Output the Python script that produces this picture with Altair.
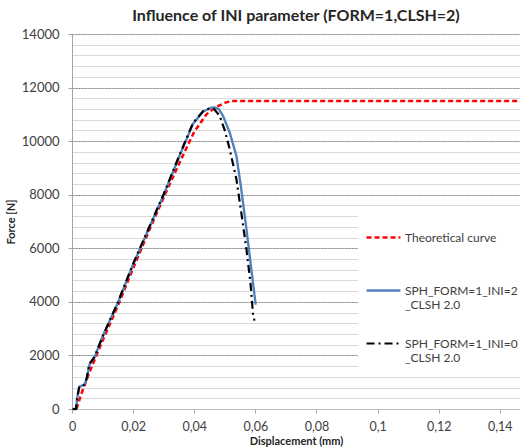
import altair as alt
import pandas as pd

# ---- data ----
theo_x = [0.0015, 0.003, 0.006, 0.01, 0.015, 0.02, 0.025, 0.03, 0.035, 0.04,
          0.044, 0.047, 0.05, 0.0523, 0.1466]
theo_f = [0, 550, 1450, 2550, 3850, 5250, 6600, 7900, 9150, 10350,
          11000, 11270, 11430, 11500, 11500]

ini2_x = [0.0002, 0.0013, 0.0017, 0.0024, 0.0032, 0.004, 0.0048, 0.0057, 0.0066,
          0.0075, 0.01, 0.015, 0.02, 0.025, 0.03, 0.035, 0.0396, 0.0429, 0.0455,
          0.0467, 0.048, 0.0494, 0.0516, 0.0538, 0.0554, 0.0571, 0.0587, 0.0601]
ini2_f = [0, 0, 400, 835, 870, 900, 1100, 1650, 1800, 1960, 2710, 3960, 5400,
          6700, 8000, 9400, 10650, 11100, 11250, 11260, 11200, 10950, 10325,
          9450, 8200, 6700, 5200, 3900]

ini0_x = [0.0002, 0.0013, 0.0017, 0.0024, 0.0032, 0.004, 0.0048, 0.0057, 0.0066,
          0.0075, 0.01, 0.015, 0.02, 0.025, 0.03, 0.035, 0.0396, 0.0429, 0.0452,
          0.0465, 0.0483, 0.05, 0.0516, 0.0538, 0.0554, 0.0571, 0.0584, 0.0592,
          0.0597]
ini0_f = [0, 0, 420, 850, 880, 900, 1150, 1700, 1820, 1980, 2700, 3980, 5420,
          6720, 8020, 9430, 10680, 11120, 11230, 11200, 10950, 10400, 9700, 8580,
          7330, 5950, 4710, 3580, 3300]

series_names = ["Theoretical curve", "SPH_FORM=1_INI=2_CLSH 2.0", "SPH_FORM=1_INI=0_CLSH 2.0"]
series_colors = ["#FF0000", "#4F81BD", "#000000"]
series_dash = [[5, 3], [1, 0], [8, 4, 2, 4]]
series_width = [2.5, 2.2, 2.5]

x_ticks = [0, 0.02, 0.04, 0.06, 0.08, 0.1, 0.12, 0.14]
y_major = [0, 2000, 4000, 6000, 8000, 10000, 12000, 14000]
y_minor = list(range(0, 14001, 400))

FONT = "Lato"

rows = []
for name, xs, fs in zip(series_names, [theo_x, ini2_x, ini0_x], [theo_f, ini2_f, ini0_f]):
    for i, (x, f) in enumerate(zip(xs, fs)):
        rows.append({"series": name, "x": x, "f": f, "order": i})
df = pd.DataFrame(rows)

xscale = alt.Scale(domain=[0, 0.1466], nice=False, zero=False)
yscale = alt.Scale(domain=[0, 14000], nice=False)

x_axis = alt.Axis(
    values=x_ticks, grid=False, labelExpr="replace(format(datum.value, '~g'), '.', ',')",
    title="Displacement (mm)", titleFont=FONT, titleFontSize=11, titleFontWeight="bold",
    titleColor="#262626", titlePadding=3, labelFont=FONT, labelFontSize=12.5,
    labelColor="#404040", labelPadding=7, tickSize=4, tickColor="#A6A6A6",
    domainColor="#BFBFBF", labelFlush=False)

label_expr = (
    "datum.label == 'SPH_FORM=1_INI=2_CLSH 2.0' ? ['SPH_FORM=1_INI=2', '_CLSH 2.0'] : "
    "datum.label == 'SPH_FORM=1_INI=0_CLSH 2.0' ? ['SPH_FORM=1_INI=0', '_CLSH 2.0'] : "
    "[datum.label, ' ']"
)

minor = alt.Chart(df).mark_line(opacity=0).encode(
    x=alt.X("x:Q", scale=xscale, axis=x_axis),
    y=alt.Y("f:Q", scale=yscale, axis=alt.Axis(
        orient="left", values=y_minor, grid=True, gridColor="#D9D9D9",
        gridWidth=1, labels=False, ticks=False, domain=False, title=None)),
    detail="series:N",
)

lines = alt.Chart(df).mark_line().encode(
    x=alt.X("x:Q", scale=xscale, axis=x_axis),
    y=alt.Y("f:Q", scale=yscale, axis=alt.Axis(
        orient="left", values=y_major, format="d", grid=True, gridColor="#8C8C8C",
        gridDash=[2, 1], gridWidth=1, title="Force [N]", titleFont=FONT, titleFontSize=11,
        titleFontWeight="bold", titleColor="#262626", titlePadding=5,
        labelFont=FONT, labelFontSize=13, labelColor="#404040", labelPadding=9,
        tickSize=4, tickColor="#A6A6A6", domainColor="#A6A6A6")),
    color=alt.Color("series:N", scale=alt.Scale(domain=series_names, range=series_colors),
                    legend=alt.Legend(
                        title=None, orient="none", legendX=286, legendY=178,
                        symbolType="stroke", symbolSize=1150, symbolStrokeWidth=2.5,
                        labelFont=FONT, labelFontSize=12, labelColor="#404040",
                        labelExpr=label_expr, labelLimit=200, rowPadding=14,
                        fillColor="white", padding=7, labelOffset=3)),
    strokeDash=alt.StrokeDash("series:N", scale=alt.Scale(domain=series_names, range=series_dash),
                              legend=None),
    strokeWidth=alt.StrokeWidth("series:N", scale=alt.Scale(domain=series_names, range=series_width),
                                legend=None),
    order="order:Q",
)

chart = alt.layer(minor, lines).resolve_axis(y="independent").properties(
    width=448, height=375,
    title=alt.TitleParams("Influence of INI parameter (FORM=1,CLSH=2)", font=FONT,
                          fontSize=16, fontWeight="bold", color="#262626",
                          anchor="middle", offset=4),
    padding={"left": 72, "top": 34, "right": 0, "bottom": 39},
    autosize=alt.AutoSizeParams(type="none"),
    background="white",
).configure_view(stroke=None)

chart.save("out.html", embed_options={"renderer": "svg", "actions": False})
